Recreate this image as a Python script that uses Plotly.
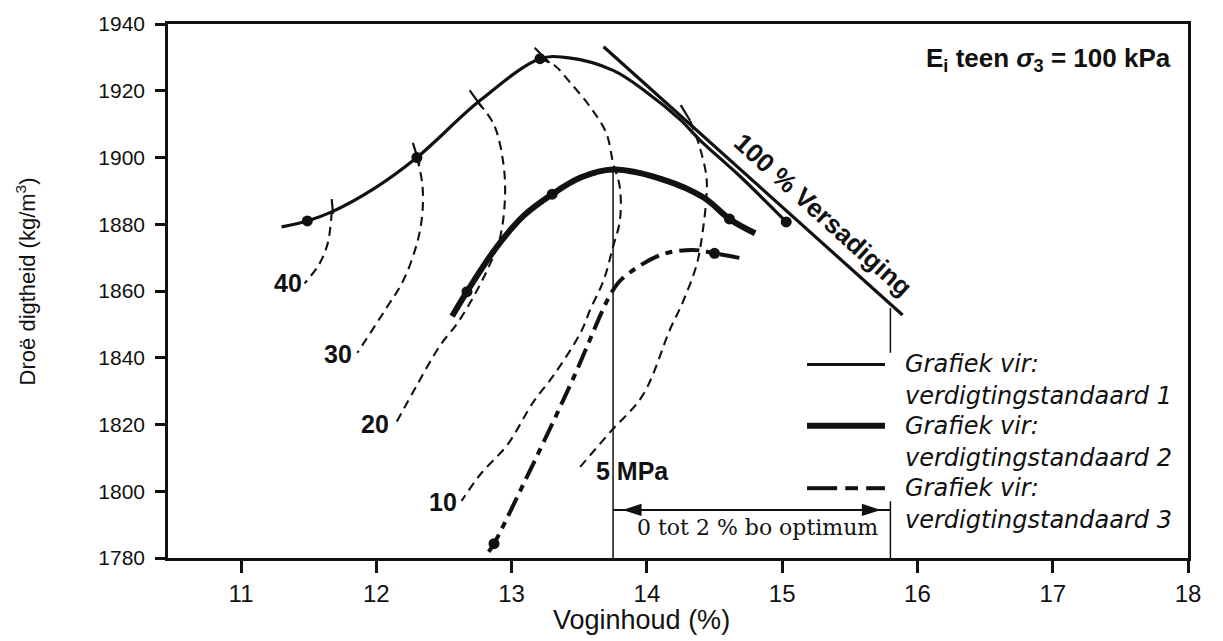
import plotly.graph_objects as go

# --- Compaction curves: dry density (kg/m3) vs moisture content (%) ---
std1_w = [11.30, 11.49, 11.67, 11.98, 12.30, 12.77, 13.21, 13.41, 13.75, 14.00, 14.25, 14.39, 14.69, 15.03]
std1_rho = [1879.2, 1881.0, 1883.7, 1890.6, 1900.0, 1917.2, 1929.6, 1929.9, 1926.1, 1919.5, 1911.2, 1905.3, 1894.3, 1880.7]
std1_pts_w = [11.49, 12.30, 13.21, 15.03]
std1_pts_rho = [1881.0, 1900.0, 1929.6, 1880.7]

std2_w = [12.56, 12.67, 12.89, 13.09, 13.30, 13.51, 13.75, 14.12, 14.42, 14.61, 14.80]
std2_rho = [1852.4, 1859.8, 1873.2, 1882.6, 1889.0, 1894.0, 1896.4, 1893.4, 1888.0, 1881.6, 1877.3]
std2_pts_w = [12.67, 13.30, 14.61]
std2_pts_rho = [1859.8, 1889.0, 1881.6]

std3_w = [12.83, 12.87, 13.08, 13.45, 13.68, 13.73, 13.81, 14.10, 14.34, 14.50, 14.70]
std3_rho = [1781.9, 1784.3, 1801.5, 1833.3, 1854.9, 1858.9, 1863.4, 1870.8, 1872.3, 1871.3, 1869.8]
std3_pts_w = [12.87, 14.50]
std3_pts_rho = [1784.3, 1871.3]

# 100 % saturation line
sat_w = [13.68, 15.89]
sat_rho = [1933.2, 1852.8]

# Contours of initial modulus E_i (MPa)
iso40_w = [11.67, 11.665, 11.64, 11.58, 11.47]
iso40_rho = [1883.7, 1881.0, 1874.2, 1868.2, 1862.3]
iso30_w = [12.30, 12.34, 12.34, 12.30, 12.20, 12.06, 11.86]
iso30_rho = [1900.0, 1892.0, 1883.1, 1874.2, 1863.2, 1854.0, 1841.5]
iso20_w = [12.75, 12.87, 12.94, 12.95, 12.91, 12.82, 12.72, 12.60, 12.47, 12.30, 12.15]
iso20_rho = [1916.6, 1909.8, 1897.9, 1887.0, 1875.3, 1866.3, 1858.4, 1850.4, 1843.6, 1831.8, 1820.8]
iso10_w = [13.21, 13.32, 13.43, 13.58, 13.70, 13.75, 13.80, 13.80, 13.75, 13.68, 13.58, 13.51,
           13.31, 13.16, 12.97, 12.77, 12.63]
iso10_rho = [1929.6, 1927.5, 1922.6, 1915.2, 1907.3, 1898.4, 1891.1, 1881.0, 1873.3, 1863.2, 1854.3,
             1847.5, 1834.7, 1826.7, 1814.0, 1805.1, 1797.1]
iso5_w = [14.32, 14.39, 14.44, 14.44, 14.41, 14.37, 14.27, 14.17, 13.97, 13.73, 13.49]
iso5_rho = [1911.0, 1903.2, 1894.3, 1888.1, 1877.1, 1868.2, 1857.1, 1848.4, 1828.8, 1817.8, 1806.5]

# short solid marks where each contour meets curve 1
mark_w0 = [11.67, 12.27, 12.69, 13.17, 14.25]
mark_rho0 = [1887.5, 1904.4, 1920.1, 1932.9, 1915.7]
mark_w1 = [11.68, 12.32, 12.78, 13.28, 14.32]
mark_rho1 = [1883.1, 1897.9, 1915.1, 1928.4, 1911.0]

iso_labels = ["40", "30", "20", "10", "5 MPa"]
iso_label_w = [11.35, 11.72, 11.99, 12.49, 13.89]
iso_label_rho = [1862.3, 1841.2, 1820.2, 1796.8, 1806.0]

# range 0 to 2 % wet of optimum
opt_left_w = 13.75
opt_left_top = 1896.4
opt_right_w = 15.80
opt_right_low_top = 1797.0
opt_right_up = [1841.5, 1854.9]
arrow_rho = 1794.4
range_text_w = 14.82
range_text_rho = 1789.0

x_ticks = [11, 12, 13, 14, 15, 16, 17, 18]
y_ticks = [1780, 1800, 1820, 1840, 1860, 1880, 1900, 1920, 1940]

legend_names = ["verdigtingstandaard 1", "verdigtingstandaard 2", "verdigtingstandaard 3"]

SANS = "Liberation Sans, Arial, sans-serif"
BLACK = "#111111"

fig = go.Figure()

def line(x, y, width, dash="solid", shape="spline"):
    fig.add_trace(go.Scatter(x=x, y=y, mode="lines", showlegend=False, hoverinfo="skip",
                             line=dict(color=BLACK, width=width, dash=dash, shape=shape)))

def dots(x, y, size=11):
    fig.add_trace(go.Scatter(x=x, y=y, mode="markers", showlegend=False, hoverinfo="skip",
                             marker=dict(color=BLACK, size=size, line=dict(width=0))))

iso_dash = "9px,6px"
for xs, ys in [(iso40_w, iso40_rho), (iso30_w, iso30_rho), (iso20_w, iso20_rho),
               (iso10_w, iso10_rho), (iso5_w, iso5_rho)]:
    line(xs, ys, 2.1, dash=iso_dash)

# vertical guides
line([opt_left_w, opt_left_w], [1780, opt_left_top], 1.5, shape="linear")
line([opt_right_w, opt_right_w, None, opt_right_w, opt_right_w],
     [1780, opt_right_low_top, None, opt_right_up[0], opt_right_up[1]], 1.5, shape="linear")

line(sat_w, sat_rho, 3.2, shape="linear")
line(std1_w, std1_rho, 3.2)
line(std2_w, std2_rho, 6)
line(std3_w, std3_rho, 4, dash="20px,7px,7px,7px")

# contour marks
mx, my = [], []
for a, b, c, d in zip(mark_w0, mark_rho0, mark_w1, mark_rho1):
    mx += [a, c, None]
    my += [b, d, None]
line(mx, my, 2.2, shape="linear")

dots(std1_pts_w, std1_pts_rho)
dots(std2_pts_w, std2_pts_rho)
dots(std3_pts_w, std3_pts_rho)

# double-headed arrow across the 0-2 % band
line([opt_left_w, opt_right_w], [arrow_rho, arrow_rho], 2, shape="linear")
fig.add_trace(go.Scatter(x=[opt_left_w + 0.07, opt_right_w - 0.07], y=[arrow_rho, arrow_rho],
                         mode="markers", showlegend=False, hoverinfo="skip",
                         marker=dict(symbol="arrow", angle=[-90, 90], size=20, color=BLACK,
                                     line=dict(width=0))))

for t, xw, yr in zip(iso_labels, iso_label_w, iso_label_rho):
    fig.add_annotation(x=xw, y=yr, text=t, showarrow=False,
                       font=dict(family=SANS, size=25, color=BLACK, weight="bold"))

fig.add_annotation(x=15.305, y=1882.8, text="100 % Versadiging", textangle=42,
                   showarrow=False, font=dict(family=SANS, size=26, color=BLACK, weight="bold"))

fig.add_annotation(x=range_text_w, y=range_text_rho, text="0 tot 2 % bo optimum", showarrow=False,
                   font=dict(family="DejaVu Serif, serif", size=22, color=BLACK))

fig.add_annotation(xref="paper", yref="paper", x=0.9853, y=0.9333, xanchor="right", yanchor="middle",
                   text="E<sub>i</sub> teen <i>σ</i><sub>3</sub> = 100 kPa", showarrow=False,
                   font=dict(family=SANS, size=26, color=BLACK, weight="bold"))

# legend keys
key_y = [0.3624, 0.2475, 0.1307]
key_w = [3.2, 6, 4]
for i, yk in enumerate(key_y):
    segs = [(0.6265, 0.7029)] if i < 2 else [(0.6265, 0.6560), (0.6640, 0.6765), (0.6845, 0.7029)]
    for s0, s1 in segs:
        fig.add_shape(type="line", xref="paper", yref="paper", x0=s0, x1=s1, y0=yk, y1=yk,
                      line=dict(color=BLACK, width=key_w[i]))
legend_text_y = [(0.3624, 0.3031), (0.2475, 0.1881), (0.1307, 0.0714)]
legend_font = dict(family="DejaVu Sans, sans-serif", size=24, color=BLACK, style="italic")
for name, (y0, y1) in zip(legend_names, legend_text_y):
    fig.add_annotation(xref="paper", yref="paper", x=0.7206, y=y0, xanchor="left", yanchor="middle",
                       text="Grafiek vir:", showarrow=False, font=legend_font)
    fig.add_annotation(xref="paper", yref="paper", x=0.7206, y=y1, xanchor="left", yanchor="middle",
                       text=name, showarrow=False, font=legend_font)

# axis titles
fig.add_annotation(xref="paper", yref="paper", x=0.4644, y=-0.117, xanchor="center", yanchor="middle",
                   text="Voginhoud (%)", showarrow=False,
                   font=dict(family=SANS, size=27, color=BLACK))
fig.add_annotation(xref="paper", yref="paper", x=-0.1392, y=0.518, xanchor="center", yanchor="middle",
                   text="Droë digtheid (kg/m<sup>3</sup>)", textangle=-90, showarrow=False,
                   font=dict(family=SANS, size=22, color=BLACK))

fig.update_layout(
    width=1223, height=641,
    margin=dict(l=168, r=35, t=18, b=83, pad=0),
    plot_bgcolor="white", paper_bgcolor="white",
    font=dict(family=SANS, color=BLACK),
    showlegend=False,
)
fig.update_xaxes(range=[10.46, 18.0], tickvals=x_ticks, showgrid=False, zeroline=False,
                 showline=True, linecolor=BLACK, linewidth=3, mirror=True,
                 ticks="outside", ticklen=12, tickwidth=2.5, tickcolor=BLACK,
                 tickfont=dict(family=SANS, size=24, color=BLACK))
fig.update_yaxes(range=[1780, 1940], tickvals=y_ticks, showgrid=False, zeroline=False,
                 showline=True, linecolor=BLACK, linewidth=2.5, mirror=True,
                 ticks="outside", ticklen=10, tickwidth=2.5, tickcolor=BLACK,
                 tickfont=dict(family=SANS, size=21, color=BLACK), ticklabelstandoff=6)

fig.write_html("out.html")
